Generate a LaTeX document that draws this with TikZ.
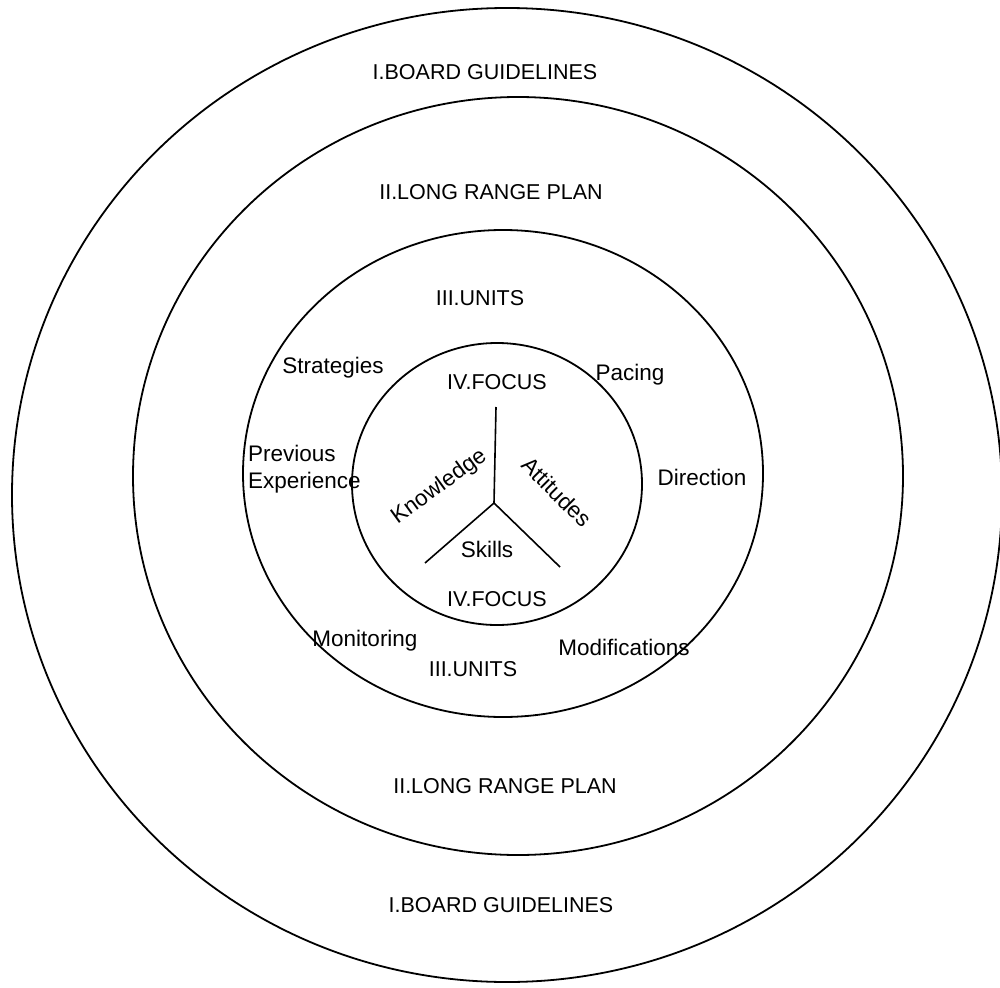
\documentclass[tikz,border=0pt]{standalone}
\usepackage{fontspec}
\setmainfont{Liberation Sans}
\begin{document}
\begin{tikzpicture}[x=1pt,y=-1pt,
  ring/.style={line width=1.8pt},
  spoke/.style={line width=1.6pt},
  caps/.style={font=\fontsize{21.5}{24}\selectfont, inner sep=0pt,
               text height=15.4pt, text depth=0pt},
  word/.style={font=\fontsize{22.5}{26}\selectfont, inner sep=0pt,
               text height=16.1pt, text depth=0pt}]
\useasboundingbox (0,0) rectangle (1000,987);
\fill[white] (0,0) rectangle (1000,987);

% four nested levels
\draw[ring] (507,495) ellipse [x radius=495, y radius=487];
\draw[ring] (518,476) ellipse [x radius=385, y radius=379];
\draw[ring] (503,473.5) ellipse [x radius=260, y radius=243.5];
\draw[ring] (497,484) ellipse [x radius=145, y radius=141];

% the three-way split of the focus
\coordinate (hub) at (494,503);
\coordinate (up) at (496,407);
\coordinate (lo-left) at (425,563);
\coordinate (lo-right) at (560,567);
\draw[spoke] (hub) -- (up);
\draw[spoke] (hub) -- (lo-left);
\draw[spoke] (hub) -- (lo-right);

% level I
\node[caps] (board-top) at (485,72) {I.BOARD GUIDELINES};
\node[caps] (board-bot) at (501,905) {I.BOARD GUIDELINES};
% level II
\node[caps] (plan-top) at (491,192) {II.LONG RANGE PLAN};
\node[caps] (plan-bot) at (505,786) {II.LONG RANGE PLAN};
% level III
\node[caps] (units-top) at (480,298) {III.UNITS};
\node[caps] (units-bot) at (473,669) {III.UNITS};
\node[word] (strategies) at (333,365) {Strategies};
\node[word] (pacing) at (630,372) {Pacing};
\node[word, anchor=west] (prev1) at (248,453) {Previous};
\node[word, anchor=west] (prev2) at (248,480) {Experience};
\node[word] (direction) at (702,477) {Direction};
\node[word] (monitoring) at (365,638) {Monitoring};
\node[word] (modifications) at (624,647) {Modifications};
% level IV
\node[caps] (focus-top) at (497,382) {IV.FOCUS};
\node[caps] (focus-bot) at (497,599) {IV.FOCUS};
\node[word, rotate=36] (knowledge) at (438,485) {Knowledge};
\node[word, rotate=-45] (attitudes) at (557,492) {Attitudes};
\node[word] (skills) at (487,549) {Skills};
\end{tikzpicture}
\end{document}
